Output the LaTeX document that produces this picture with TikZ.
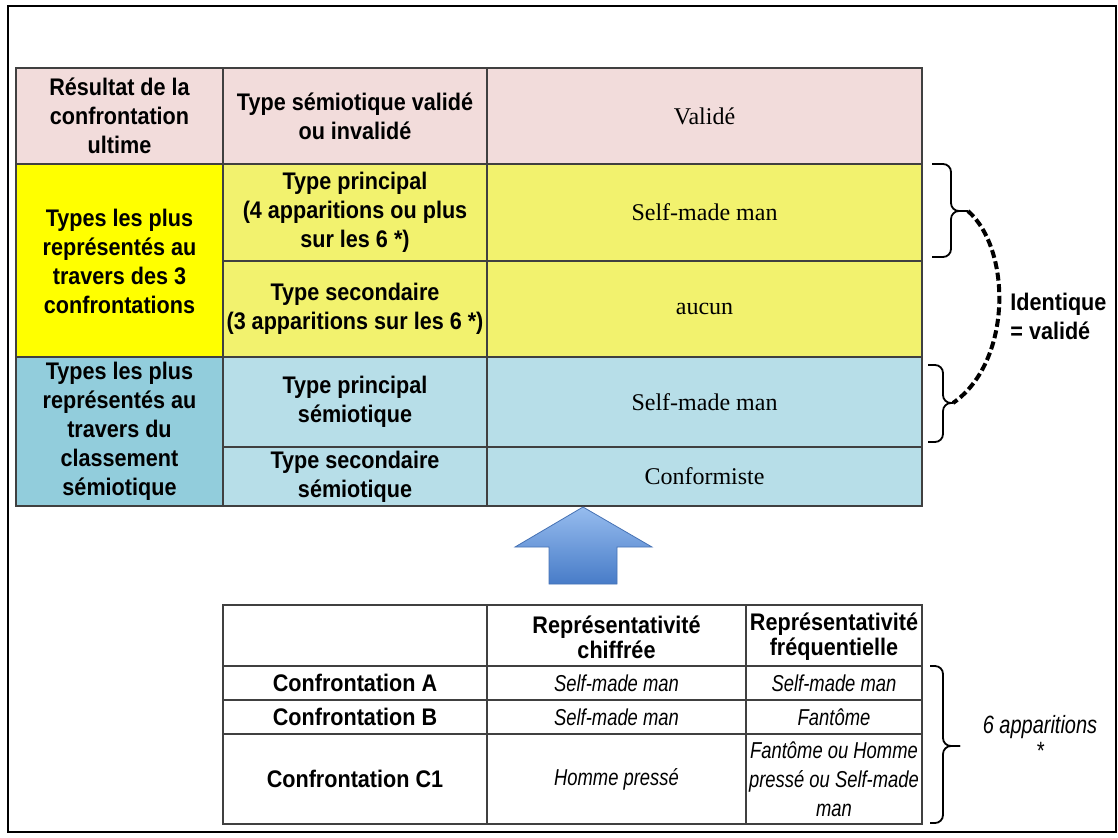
\documentclass[tikz,border=0pt]{standalone}
\usepackage{fontspec}
\setmainfont{Liberation Serif}
\newfontfamily\hdfont[FakeStretch=0.9]{Liberation Sans}
\newfontfamily\itfont[FakeStretch=0.8]{Liberation Sans}
\definecolor{pinkc}{RGB}{242,220,219}
\definecolor{yelf}{RGB}{255,255,0}
\definecolor{yelc}{RGB}{242,242,110}
\definecolor{bluef}{RGB}{146,205,220}
\definecolor{bluec}{RGB}{183,222,232}
\definecolor{tabline}{RGB}{64,64,64}
\definecolor{arrowtop}{RGB}{150,188,238}
\definecolor{arrowbot}{RGB}{72,124,200}
\definecolor{arrowedge}{RGB}{70,114,180}
\tikzset{
  tab/.style={draw=tabline, line width=0.6pt},
  hd/.style={font=\hdfont\bfseries\fontsize{12}{14.5}\selectfont, align=center, inner sep=0pt},
  hdb/.style={font=\hdfont\bfseries\fontsize{12}{12.5}\selectfont, align=center, inner sep=0pt},
  val/.style={font=\fontsize{12}{14}\selectfont, inner sep=0pt},
  itv/.style={font=\itfont\itshape\fontsize{11.5}{14.5}\selectfont, align=center, inner sep=0pt},
  brc/.style={line width=0.9pt, rounded corners=4pt},
  dlink/.style={line width=2pt, dash pattern=on 4pt off 1.8pt}
}
\begin{document}
\begin{tikzpicture}[x=0.5pt,y=-0.5pt]
	\useasboundingbox (0,0) rectangle (1118,837);
	\draw[line width=1pt] (8,6) rectangle (1116,832);
	% top table
	\fill[pinkc] (16,68) rectangle (922,164);
	\fill[yelf] (16,164) rectangle (223,357);
	\fill[yelc] (223,164) rectangle (922,357);
	\fill[bluef] (16,357) rectangle (223,506);
	\fill[bluec] (223,357) rectangle (922,506);
	\draw[tab] (16,68) rectangle (922,506);
	\draw[tab] (223,68) -- (223,506) (487,68) -- (487,506);
	\draw[tab] (16,164) -- (922,164) (16,357) -- (922,357);
	\draw[tab] (223,261) -- (922,261) (223,447) -- (922,447);
	\node[hd] (resultat) at (119.5,116) {Résultat de la\\confrontation\\ultime};
	\node[hd] (semio) at (355,116) {Type sémiotique validé\\ou invalidé};
	\node[val] (valide) at (704.5,116) {Validé};
	\node[hd] (types3) at (119.5,261) {Types les plus\\représentés au\\travers des 3\\confrontations};
	\node[hd] (princ) at (355,212.5) {Type principal\\(4 apparitions ou plus\\sur les 6 *)};
	\node[val] (smmA) at (704.5,212.5) {Self-made man};
	\node[hd] (second) at (355,309) {Type secondaire\\(3 apparitions sur les 6 *)};
	\node[val] (aucun) at (704.5,309) {aucun};
	\node[hd] (typesclass) at (119.5,431.5) {Types les plus\\représentés au\\travers du\\classement\\sémiotique};
	\node[hd] (princsemio) at (355,402) {Type principal\\sémiotique};
	\node[val] (smmB) at (704.5,402) {Self-made man};
	\node[hd] (secsemio) at (355,476.5) {Type secondaire\\sémiotique};
	\node[val] (conform) at (704.5,476.5) {Conformiste};
	% braces and link
	\coordinate (tipA) at (968,211);
	\coordinate (tipB) at (953,403);
	\coordinate (tipC) at (960,746);
	\draw[brc] (932,164) -- (951,164) -- (951,211) -- (tipA);
	\draw[brc] (932,257) -- (951,257) -- (951,211) -- (tipA);
	\draw[brc] (928,365) -- (943,365) -- (943,403) -- (tipB);
	\draw[brc] (928,442) -- (943,442) -- (943,403) -- (tipB);
	\draw[dlink] (tipA) .. controls (1012,250) and (1012,362) .. (tipB);
	\node[hd, anchor=west, align=left] (ident) at (1010,316) {Identique\\= validé};
	% arrow
	\shade[top color=arrowtop, bottom color=arrowbot, draw=arrowedge, line width=0.4pt]
		(583,507) -- (652,547) -- (617,547) -- (617,584) -- (549,584) -- (549,547) -- (515,547) -- cycle;
	% bottom table
	\draw[tab] (223,605) rectangle (922,824);
	\draw[tab] (487,605) -- (487,824) (746,605) -- (746,824);
	\foreach \y in {666,700,734} \draw[tab] (223,\y) -- (922,\y);
	\node[hdb] (hchif) at (616.5,637) {Représentativité\\chiffrée};
	\node[hdb] (hfreq) at (834,637) {Représentativité\\fréquentielle};
	\node[hd] (confA) at (355,683) {Confrontation A};
	\node[itv] (chifA) at (616.5,683) {Self-made man};
	\node[itv] (freqA) at (834,683) {Self-made man};
	\node[hd] (confB) at (355,717) {Confrontation B};
	\node[itv] (chifB) at (616.5,717) {Self-made man};
	\node[itv] (freqB) at (834,717) {Fantôme};
	\node[hd] (confC) at (355,779) {Confrontation C1};
	\node[itv] (chifC) at (616.5,779) {Homme pressé};
	\node[itv] (freqC) at (834,779) {Fantôme ou Homme\\pressé ou Self-made\\man};
	\draw[brc] (930,666) -- (943,666) -- (943,746) -- (tipC);
	\draw[brc] (930,823) -- (943,823) -- (943,746) -- (tipC);
	\node[itv, font=\itfont\itshape\fontsize{12.5}{13}\selectfont] (sixapp) at (1040,737) {6 apparitions\\*};
\end{tikzpicture}
\end{document}
